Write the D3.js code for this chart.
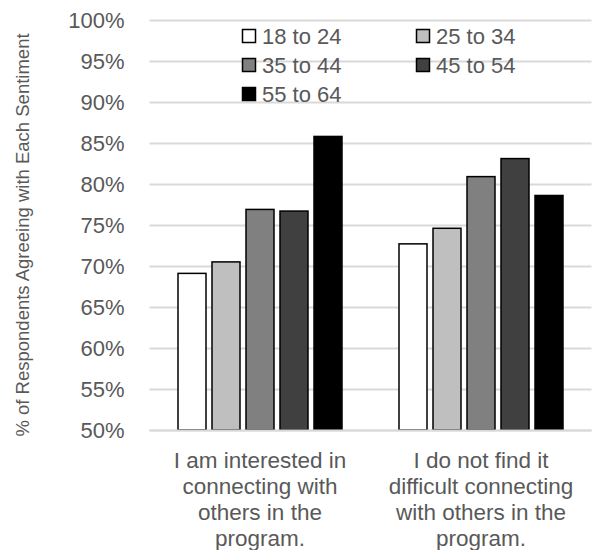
<!DOCTYPE html>
<html>
<head>
<meta charset="utf-8">
<script src="https://cdn.jsdelivr.net/npm/d3@7/dist/d3.min.js"></script>
<style>
  html, body { margin: 0; padding: 0; background: #fff; }
  svg { display: block; font-family: "Liberation Sans", Arial, sans-serif; }
</style>
</head>
<body>
<svg id="chart" width="596" height="550"></svg>
<script>
// Survey statements (x categories), each wrapped into display lines
const categories = ["interested", "notDifficult"];
const categoryLines = [
  ["I am interested in", "connecting with", "others in the", "program."],
  ["I do not find it", "difficult connecting", "with others in the", "program."]
];

// Age groups (series) and their fills
const ageGroups = ["18 to 24", "25 to 34", "35 to 44", "45 to 54", "55 to 64"];
const ageFills  = ["#ffffff", "#bfbfbf", "#808080", "#404040", "#000000"];

// Percent agreeing, one array per age group: [interested, not difficult]
const age18to24 = [69.1, 72.7];
const age25to34 = [70.5, 74.6];
const age35to44 = [76.9, 80.9];
const age45to54 = [76.7, 83.1];
const age55to64 = [85.8, 78.6];
const seriesValues = [age18to24, age25to34, age35to44, age45to54, age55to64];

// Y axis ticks
const yTicks = [50, 55, 60, 65, 70, 75, 80, 85, 90, 95, 100];

const svg = d3.select("#chart");
const plot = { left: 149.5, right: 591.5, top: 20, bottom: 430 };
const textColor = "#595959";

const y = d3.scaleLinear().domain([50, 100]).range([plot.bottom, plot.top]);
const x0 = d3.scaleBand().domain(categories).range([plot.left, plot.right]).padding(0);
const groupGap = 28.5;
const x1 = d3.scaleBand().domain(ageGroups)
  .range([groupGap, x0.bandwidth() - groupGap])
  .paddingInner(6 / 34).paddingOuter(0);

// Horizontal gridlines
const yAxis = d3.axisLeft(y).tickValues(yTicks)
  .tickSize(-(plot.right - plot.left)).tickPadding(25)
  .tickFormat(d => d + "%");
const gy = svg.append("g").attr("transform", `translate(${plot.left},0)`).call(yAxis);
gy.select(".domain").remove();
gy.selectAll(".tick line").attr("stroke", "#d9d9d9").attr("stroke-width", 2);
gy.selectAll(".tick text")
  .attr("fill", textColor).style("font-size", "22px");

// Y axis title
svg.append("text")
  .attr("transform", `translate(22,235) rotate(-90)`)
  .attr("text-anchor", "middle").attr("dominant-baseline", "central")
  .attr("fill", textColor).style("font-size", "18.5px")
  .text("% of Respondents Agreeing with Each Sentiment");

// Bars
const groups = svg.append("g").selectAll("g")
  .data(categories).join("g")
  .attr("transform", d => `translate(${x0(d)},0)`);

groups.selectAll("rect")
  .data((c, ci) => ageGroups.map((a, ai) => ({ age: a, i: ai, value: seriesValues[ai][ci] })))
  .join("rect")
  .attr("x", d => x1(d.age))
  .attr("y", d => y(d.value))
  .attr("width", x1.bandwidth())
  .attr("height", d => y(50) - y(d.value))
  .attr("fill", d => ageFills[d.i])
  .attr("stroke", "#000")
  .attr("stroke-width", 1.5);

// Category axis baseline
svg.append("line")
  .attr("x1", plot.left).attr("x2", plot.right)
  .attr("y1", plot.bottom + 0.5).attr("y2", plot.bottom + 0.5)
  .attr("stroke", "#d9d9d9").attr("stroke-width", 2);

// Category labels
categories.forEach((c, ci) => {
  const t = svg.append("text")
    .attr("text-anchor", "middle").attr("fill", textColor)
    .style("font-size", "22.5px");
  categoryLines[ci].forEach((line, li) => {
    t.append("tspan")
      .attr("x", x0(c) + x0.bandwidth() / 2)
      .attr("y", 460 + li * 26.3)
      .attr("dominant-baseline", "central")
      .text(line);
  });
});

// Legend
const legendCols = [242, 416];
const legendRows = [36, 65, 94];
const legend = svg.append("g").selectAll("g")
  .data(ageGroups).join("g")
  .attr("transform", (d, i) => `translate(${legendCols[i % 2]},${legendRows[Math.floor(i / 2)]})`);
legend.append("rect")
  .attr("x", 0.5).attr("y", -6.5).attr("width", 13).attr("height", 13)
  .attr("fill", (d, i) => ageFills[i]).attr("stroke", "#000").attr("stroke-width", 1.5);
legend.append("text")
  .attr("x", 20).attr("y", 0).attr("dominant-baseline", "central")
  .attr("fill", textColor).style("font-size", "22px")
  .text(d => d);
</script>
</body>
</html>
